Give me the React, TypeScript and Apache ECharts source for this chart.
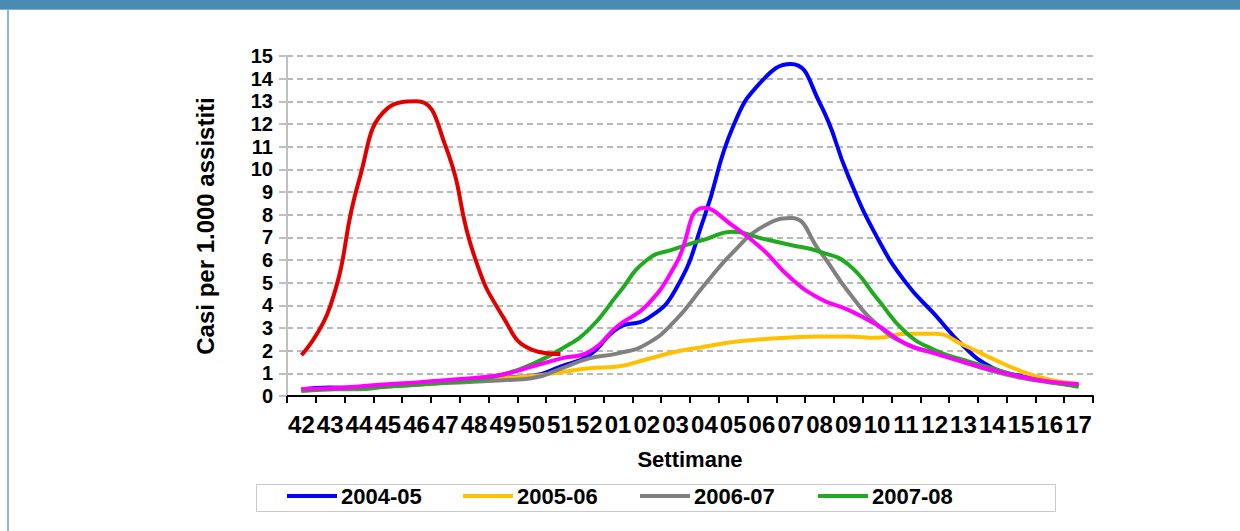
import React, { useEffect, useRef } from "react";
import * as echarts from "echarts";

const weeks = [
  "42", "43", "44", "45", "46", "47", "48", "49", "50", "51", "52",
  "01", "02", "03", "04", "05", "06", "07", "08", "09", "10",
  "11", "12", "13", "14", "15", "16", "17",
];

const yTicks = { min: 0, max: 15, step: 1 };

const s2004_05 = [0.3, 0.38, 0.34, 0.45, 0.52, 0.6, 0.7, 0.8, 0.88, 1.3, 1.8, 3.0, 3.4, 4.7, 7.9, 11.9, 13.9, 14.65, 12.95, 9.7, 7.0, 5.0, 3.6, 2.2, 1.25, 0.88, 0.63, 0.5];
const s2005_06 = [0.3, 0.32, 0.35, 0.42, 0.5, 0.58, 0.68, 0.78, 0.88, 1.05, 1.22, 1.3, 1.62, 1.95, 2.17, 2.38, 2.5, 2.58, 2.62, 2.62, 2.57, 2.75, 2.75, 2.25, 1.65, 1.1, 0.72, 0.53];
const s2006_07 = [0.3, 0.3, 0.3, 0.42, 0.5, 0.57, 0.63, 0.7, 0.78, 1.2, 1.66, 1.88, 2.3, 3.35, 4.9, 6.35, 7.45, 7.85, 6.4, 4.6, 3.15, 2.3, 1.9, 1.5, 1.1, 0.8, 0.6, 0.45];
const s2007_08 = [0.22, 0.3, 0.35, 0.42, 0.5, 0.6, 0.7, 0.95, 1.4, 2.05, 2.95, 4.5, 6.0, 6.5, 6.9, 7.25, 6.95, 6.66, 6.37, 5.8, 4.3, 2.8, 2.03, 1.59, 1.22, 0.85, 0.63, 0.41];
const s2008_09 = [0.3, 0.34, 0.42, 0.52, 0.6, 0.7, 0.8, 0.95, 1.3, 1.65, 1.95, 3.1, 4.0, 5.8, 8.3, 7.5, 6.5, 5.2, 4.3, 3.8, 3.13, 2.3, 1.88, 1.5, 1.15, 0.85, 0.63, 0.53];
const s2009_10 = [1.8, 3.95, 9.5, 12.7, 13.0, 11.05, 6.2, 3.5, 2.05, 1.85];

const seriesNames = ["2004-05", "2005-06", "2006-07", "2007-08", "2008-09", "2009-10"];
const seriesData = [s2004_05, s2005_06, s2006_07, s2007_08, s2008_09, s2009_10];
const seriesColors = ["#0000ff", "#ffc000", "#808080", "#1faa1f", "#ff00ff", "#e00000"];
const legendNames = ["2004-05", "2005-06", "2006-07", "2007-08"];
const legendLefts = [287, 463, 640, 818];

const FONT = "Arial, 'Liberation Sans', Helvetica, sans-serif";

export default function App() {
  const ref = useRef<HTMLDivElement>(null);

  useEffect(() => {
    const chart = echarts.init(ref.current as HTMLDivElement, null, { renderer: "svg" });
    chart.setOption({
      animation: false,
      backgroundColor: "#ffffff",
      textStyle: { fontFamily: FONT },
      grid: { left: 287, right: 147, top: 56, bottom: 135, containLabel: false },
      graphic: [
        { type: "rect", shape: { x: 0, y: 0, width: 1240, height: 10 }, style: { fill: "#4a8bb3" }, silent: true },
        { type: "rect", shape: { x: 0, y: 9, width: 1240, height: 1 }, style: { fill: "#7fb0d0" }, silent: true },
        { type: "rect", shape: { x: 7, y: 10, width: 2, height: 521 }, style: { fill: "#8fb8d6" }, silent: true },
        {
          type: "rect",
          shape: { x: 256.5, y: 484.5, width: 799, height: 27 },
          style: { fill: "none", stroke: "#c8c8c8", lineWidth: 1 },
          silent: true,
        },
      ],
      legend: legendNames.map((n, i) => ({
        data: [n],
        left: legendLefts[i],
        top: 485,
        icon: "rect",
        itemWidth: 50,
        itemHeight: 4,
        itemGap: 0,
        padding: 0,
        selectedMode: false,
        textStyle: { fontFamily: FONT, fontSize: 22, fontWeight: "bold", color: "#000", padding: [0, 0, 0, -1] },
      })),
      xAxis: {
        type: "category",
        data: weeks,
        boundaryGap: true,
        axisLine: { show: true, lineStyle: { color: "#000", width: 2 } },
        axisTick: { show: true, length: 7, lineStyle: { color: "#000", width: 2 } },
        axisLabel: { interval: 0, margin: 16, fontSize: 24, fontWeight: "bold", color: "#000", fontFamily: FONT },
        splitLine: { show: false },
        name: "Settimane",
        nameLocation: "middle",
        nameGap: 52,
        nameTextStyle: { fontSize: 22, fontWeight: "bold", color: "#000", fontFamily: FONT },
      },
      yAxis: {
        type: "value",
        min: yTicks.min,
        max: yTicks.max,
        interval: yTicks.step,
        axisLine: { show: true, lineStyle: { color: "#c0c0c0", width: 2 } },
        axisTick: { show: true, length: 8, lineStyle: { color: "#c0c0c0", width: 2 } },
        axisLabel: { margin: 14, fontSize: 20, fontWeight: "bold", color: "#000", fontFamily: FONT },
        splitLine: { show: true, lineStyle: { color: "#b8b8b8", width: 2, type: [6, 4] } },
        name: "Casi per 1.000 assistiti",
        nameLocation: "middle",
        nameGap: 70,
        nameTextStyle: { fontSize: 24, fontWeight: "bold", color: "#000", fontFamily: FONT },
      },
      series: seriesData.map((d, i) => ({
        name: seriesNames[i],
        type: "line",
        data: d,
        smooth: true,
        symbol: "none",
        showSymbol: false,
        color: seriesColors[i],
        lineStyle: { color: seriesColors[i], width: 4 },
        z: 2 + i,
      })),
    });
    return () => chart.dispose();
  }, []);

  return (
    <div
      ref={ref}
      style={{ position: "absolute", left: 0, top: 0, width: 1240, height: 531 }}
    />
  );
}
